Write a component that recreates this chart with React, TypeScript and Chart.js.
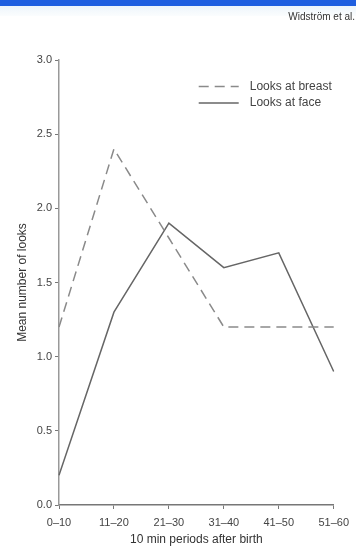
import React, { useEffect, useRef } from "react";
import { Chart, registerables } from "chart.js";

Chart.register(...registerables);

const categories = ["0–10", "11–20", "21–30", "31–40", "41–50", "51–60"];
const looksAtBreast = [1.2, 2.4, 1.8, 1.2, 1.2, 1.2];
const looksAtFace = [0.2, 1.3, 1.9, 1.6, 1.7, 0.9];
const yTicksMin = 0;
const yTicksMax = 3;
const yTickStep = 0.5;
const seriesNames = ["Looks at breast", "Looks at face"];
const xTitle = "10 min periods after birth";
const yTitle = "Mean number of looks";
const sourceNote = "Widström et al.";

const FONT = "'Liberation Sans', Arial, Helvetica, sans-serif";

const legendPlugin = {
  id: "customLegend",
  afterDraw(chart: any) {
    const { ctx, chartArea } = chart;
    const ds = chart.data.datasets;
    ctx.save();
    ds.forEach((d: any, i: number) => {
      const y = chartArea.top + 26.5 + i * 16.5;
      ctx.beginPath();
      ctx.setLineDash(d.borderDash || []);
      ctx.strokeStyle = d.borderColor;
      ctx.lineWidth = 1.5;
      ctx.moveTo(chartArea.right - 135, y);
      ctx.lineTo(chartArea.right - 95, y);
      ctx.stroke();
      ctx.setLineDash([]);
      ctx.fillStyle = "#444";
      ctx.font = `12px ${FONT}`;
      ctx.textAlign = "left";
      ctx.textBaseline = "middle";
      ctx.fillText(d.label, chartArea.right - 84, y);
    });
    ctx.fillStyle = "#333";
    ctx.font = `10px ${FONT}`;
    ctx.textAlign = "right";
    ctx.textBaseline = "middle";
    ctx.fillText(sourceNote, chart.width - 1, 17);
    ctx.restore();
  },
};

export default function App() {
  const ref = useRef<HTMLCanvasElement | null>(null);
  useEffect(() => {
    if (!ref.current) return;
    const chart = new Chart(ref.current, {
      type: "line",
      data: {
        labels: categories,
        datasets: [
          {
            label: seriesNames[0],
            data: looksAtBreast,
            borderColor: "#8a8a8a",
            borderWidth: 1.5,
            borderDash: [10, 6],
            pointRadius: 0,
            tension: 0,
            fill: false,
          },
          {
            label: seriesNames[1],
            data: looksAtFace,
            borderColor: "#666",
            borderWidth: 1.5,
            pointRadius: 0,
            tension: 0,
            fill: false,
          },
        ],
      },
      options: {
        animation: false,
        responsive: false,
        maintainAspectRatio: false,
        layout: { padding: { left: 0, right: 18, top: 60, bottom: 0 } },
        plugins: { legend: { display: false }, tooltip: { enabled: false }, title: { display: false } },
        scales: {
          x: {
            type: "category",
            offset: false,
            grid: { display: true, drawOnChartArea: false, drawTicks: true, tickLength: 4, color: "#777", lineWidth: 1 },
            border: { display: true, color: "#777", width: 1.5 },
            ticks: { font: { family: FONT, size: 11 }, color: "#444", padding: 7, maxRotation: 0, autoSkip: false },
            title: { display: true, text: xTitle, font: { family: FONT, size: 12 }, color: "#333", padding: { top: 0, bottom: 0 } },
            afterFit: (s: any) => {
              s.height = 42;
            },
          },
          y: {
            min: yTicksMin,
            max: yTicksMax,
            grid: { display: true, drawOnChartArea: false, drawTicks: true, tickLength: 4, color: "#777", lineWidth: 1 },
            border: { display: true, color: "#999", width: 1.5 },
            ticks: {
              stepSize: yTickStep,
              font: { family: FONT, size: 11 },
              color: "#444",
              padding: 3,
              callback: (v: any) => Number(v).toFixed(1),
            },
            title: { display: true, text: yTitle, font: { family: FONT, size: 12 }, color: "#333", padding: { top: 15, bottom: 0 } },
            afterFit: (s: any) => {
              s.width = 59;
            },
          },
        },
      },
      plugins: [legendPlugin],
    });
    return () => chart.destroy();
  }, []);

  return (
    <div style={{ position: "fixed", left: 0, top: 0, width: 356, height: 547, background: "#fff", overflow: "hidden" }}>
      <div style={{ position: "absolute", left: 0, top: 0, width: 356, height: 6, background: "#1f5fe0" }} />
      <div style={{ position: "absolute", left: 0, top: 6, width: 356, height: 10, background: "linear-gradient(#edf5fb, #fbfdfe)" }} />
      <canvas ref={ref} width={356} height={547} style={{ position: "absolute", left: 0, top: 0, width: 356, height: 547 }} />
    </div>
  );
}
